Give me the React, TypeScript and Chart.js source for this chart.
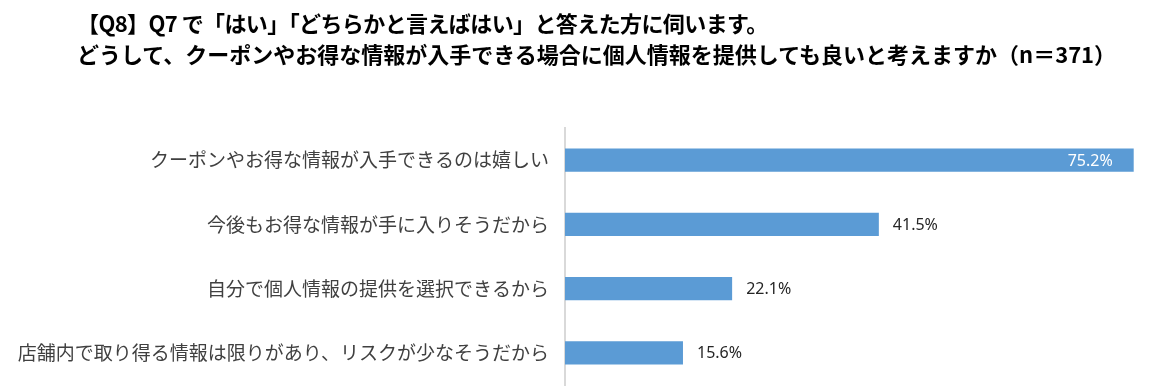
import React, { useEffect, useRef } from "react";
import { Chart, registerables } from "chart.js";

Chart.register(...registerables);

const titleLines = [
  "【Q8】Q7 で「はい」「どちらかと言えばはい」と答えた方に伺います。",
  "どうして、クーポンやお得な情報が入手できる場合に個人情報を提供しても良いと考えますか（n＝371）",
];
const categories = [
  "クーポンやお得な情報が入手できるのは嬉しい",
  "今後もお得な情報が手に入りそうだから",
  "自分で個人情報の提供を選択できるから",
  "店舗内で取り得る情報は限りがあり、リスクが少なそうだから",
];
const values = [75.2, 41.5, 22.1, 15.6];

const JP = '"Noto Sans CJK JP", "Noto Sans", sans-serif';

const valueLabelPlugin = {
  id: "valueLabels",
  afterDatasetsDraw(chart: any) {
    const ctx = chart.ctx;
    const meta = chart.getDatasetMeta(0);
    ctx.save();
    ctx.font = '16px "Noto Sans", sans-serif';
    ctx.textBaseline = "middle";
    meta.data.forEach((bar: any, i: number) => {
      const text = values[i].toFixed(1) + "%";
      if (i === 0) {
        ctx.fillStyle = "#ffffff";
        ctx.textAlign = "right";
        ctx.fillText(text, bar.x - 21, bar.y + 1);
      } else {
        ctx.fillStyle = "#262626";
        ctx.textAlign = "left";
        ctx.fillText(text, bar.x + 14, bar.y + 1);
      }
    });
    ctx.restore();
  },
};

export default function App() {
  const ref = useRef<HTMLCanvasElement>(null);
  useEffect(() => {
    if (!ref.current) return;
    const chart = new Chart(ref.current, {
      type: "bar",
      data: {
        labels: categories,
        datasets: [
          {
            data: values,
            backgroundColor: "#5B9BD5",
            borderWidth: 0,
            categoryPercentage: 1,
            barPercentage: 0.36,
          },
        ],
      },
      options: {
        indexAxis: "y",
        responsive: false,
        animation: false,
        layout: { padding: { top: 128, bottom: 6, right: 1, left: 0 } },
        plugins: {
          legend: { display: false },
          tooltip: { enabled: false },
          title: { display: false },
        },
        scales: {
          x: {
            min: 0,
            max: 80,
            display: false,
            grid: { display: false },
          },
          y: {
            grid: { display: false, drawTicks: false },
            border: { display: true, color: "#d9d9d9", width: 2 },
            ticks: {
              color: "#404040",
              padding: 16,
              font: { family: JP, size: 19 },
            },
            afterFit(scale: any) {
              scale.width = 565;
              scale.paddingTop = 0;
              scale.paddingBottom = 0;
            },
          },
        },
      },
      plugins: [valueLabelPlugin],
    });
    return () => chart.destroy();
  }, []);

  return (
    <div
      style={{
        position: "absolute",
        left: 0,
        top: 0,
        width: 1171,
        height: 391,
        background: "#ffffff",
        overflow: "hidden",
      }}
    >
      <div
        style={{
          position: "absolute",
          left: 77,
          top: 7,
          fontFamily: JP,
          fontWeight: 700,
          fontSize: 22,
          lineHeight: "31px",
          color: "#000000",
          whiteSpace: "nowrap",
        }}
      >
        <div style={{ letterSpacing: "-0.6px" }}>{titleLines[0]}</div>
        <div>{titleLines[1]}</div>
      </div>
      <canvas ref={ref} width={1171} height={391} style={{ display: "block" }} />
    </div>
  );
}
